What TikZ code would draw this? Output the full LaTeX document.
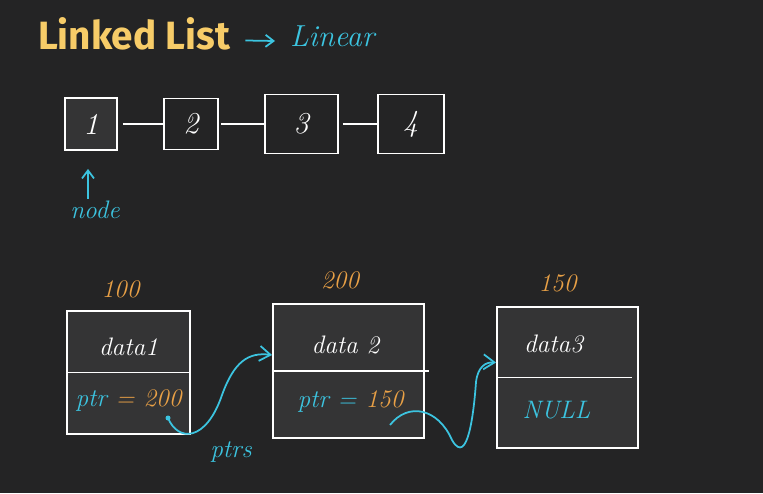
\documentclass[tikz,border=0pt]{standalone}
\usepackage{fontspec}
\usepackage{graphicx}
\usepackage{tikz}
\usetikzlibrary{positioning,arrows.meta,calc}
\newfontfamily\titlefont{Fira Sans}
\definecolor{Board}{RGB}{36,36,37}
\definecolor{BoardLight}{RGB}{52,52,53}
\definecolor{ChalkCyan}{RGB}{60,196,224}
\definecolor{ChalkOrange}{RGB}{232,160,70}
\definecolor{ChalkYellow}{RGB}{247,204,104}
\tikzset{
  cell/.style={draw=white,line width=1.1pt,fill=BoardLight,inner sep=0pt},
  hand/.style={font=\Large\itshape,text=white,inner sep=1pt},
  digit/.style={hand,font=\LARGE\itshape},
  cyantext/.style={hand,text=ChalkCyan},
  addr/.style={hand,text=ChalkOrange},
  link/.style={white,line width=0.9pt},
  ptrarrow/.style={-{Straight Barb[length=2.2mm,width=3mm]},ChalkCyan,line width=1pt},
  smallarrow/.style={-{Straight Barb[length=1.6mm,width=2.4mm]},ChalkCyan,line width=1pt}
}
\begin{document}
\begin{tikzpicture}[x=0.02cm,y=-0.02cm,node distance=0.9cm]
\fill[Board] (0,0) rectangle (763,493);
\useasboundingbox (0,0) rectangle (763,493);
% title
\node[text=ChalkYellow,inner sep=0pt] (title) at (134,34) {\resizebox{3.84cm}{0.64cm}{\titlefont\bfseries Linked List}};
\node[cyantext,font=\LARGE\itshape,anchor=west] (lin) at (288,36) {Linear};
\draw[smallarrow] ([xshift=0.3cm,yshift=-0.13cm]title.east) -- ([xshift=-0.26cm,yshift=-0.1cm]lin.west);
% top row
\node[cell,minimum width=1.04cm,minimum height=1.04cm] (n1) at (91,124) {};
\node[digit] at (n1) {1};
\node[cell,fill=none,minimum width=1.08cm,minimum height=1.02cm,right=0.9cm of n1.east,anchor=west] (n2) {};
\node[digit] at (n2) {2};
\node[cell,fill=none,minimum width=1.46cm,minimum height=1.18cm,right=0.9cm of n2.east,anchor=west] (n3) {};
\node[digit] at (n3) {3};
\node[cell,fill=none,minimum width=1.32cm,minimum height=1.18cm,right=0.76cm of n3.east,anchor=west] (n4) {};
\node[digit] at (n4) {4};
\draw[link] ([xshift=0.1cm]n1.east) -- (n2.west);
\draw[link] ([xshift=0.05cm]n2.east) -- (n3.west);
\draw[link] ([xshift=0.08cm]n3.east) -- (n4.west);
\node[cyantext] (nd) at (95,210) {node};
\draw[smallarrow] ([xshift=-0.14cm]nd.north) -- ([xshift=-0.06cm,yshift=-0.36cm]n1.south);
% bottom row
\node[cell,minimum width=2.46cm,minimum height=2.46cm] (A) at (128.5,372.5) {};
\node[cell,minimum width=3.02cm,minimum height=2.68cm] (B) at (348.5,371) {};
\node[cell,minimum width=2.82cm,minimum height=2.82cm] (C) at (567.5,377.5) {};
\draw[link] (A.west) -- (A.east);
\draw[link] (B.west) -- ([xshift=0.08cm]B.east);
\draw[link] (C.west) -- ([xshift=-0.14cm]C.east);
\node[addr,above=0.2cm of A.north,xshift=-0.16cm] (aA) {100};
\node[addr,above=0.24cm of B.north,xshift=-0.17cm] (aB) {200};
\node[addr,above=0.24cm of C.north,xshift=-0.2cm] (aC) {150};
\node[hand] (d1) at ($(A.north)!.5!(A.center)+(0,6)$) {data1};
\node[hand] (d2) at ($(B.north)!.5!(B.center)+(-3,8)$) {data 2};
\node[hand] (d3) at ($(C.north)!.5!(C.center)+(-14,2)$) {data3};
\node[cyantext] (p1) at ($(A.south)!.5!(A.center)+(0,-3)$) {ptr \textcolor{ChalkOrange}{= 200}};
\node[cyantext] (p2) at ($(B.south)!.5!(B.center)+(2,-3)$) {ptr = \textcolor{ChalkOrange}{150}};
\node[cyantext] (nl) at ($(C.south)!.5!(C.center)+(-11,-3)$) {NULL};
\node[cyantext] (ps) at (231,452) {ptrs};
% pointers
\coordinate (s1) at (168,418);
\coordinate (s2) at (390,425);
\fill[ChalkCyan] (s1) circle (2.5);
\draw[ptrarrow] (s1) .. controls (178,442) and (206,442) .. (222,395)
  .. controls (234,362) and (248,352) .. ([yshift=0.32cm]B.west);
\draw[ptrarrow] (s2) .. controls (408,402) and (438,408) .. (452,440)
  .. controls (468,468) and (474,410) .. (476,382)
  .. controls (478,366) and (486,362) .. ([yshift=0.3cm]C.west);
\end{tikzpicture}
\end{document}
